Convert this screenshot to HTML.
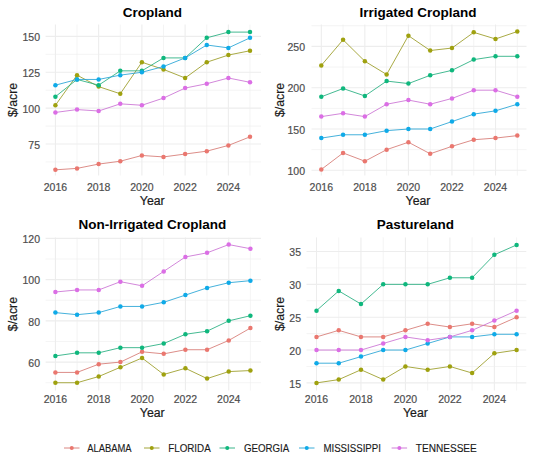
<!DOCTYPE html><html><head><meta charset="utf-8"><style>html,body{margin:0;padding:0;background:#fff;width:533px;height:469px;overflow:hidden}svg{display:block}text{font-family:"Liberation Sans",sans-serif}</style></head><body>
<svg width="533" height="469" viewBox="0 0 533 469">
<rect width="533" height="469" fill="#fff"/>
<line x1="45.6" x2="261.0" y1="161.93" y2="161.93" stroke="#EDEDED" stroke-width="0.6"/>
<line x1="45.6" x2="261.0" y1="126.07" y2="126.07" stroke="#EDEDED" stroke-width="0.6"/>
<line x1="45.6" x2="261.0" y1="90.20" y2="90.20" stroke="#EDEDED" stroke-width="0.6"/>
<line x1="45.6" x2="261.0" y1="54.33" y2="54.33" stroke="#EDEDED" stroke-width="0.6"/>
<line x1="77.02" x2="77.02" y1="24.6" y2="175.5" stroke="#EDEDED" stroke-width="0.6"/>
<line x1="120.27" x2="120.27" y1="24.6" y2="175.5" stroke="#EDEDED" stroke-width="0.6"/>
<line x1="163.51" x2="163.51" y1="24.6" y2="175.5" stroke="#EDEDED" stroke-width="0.6"/>
<line x1="206.76" x2="206.76" y1="24.6" y2="175.5" stroke="#EDEDED" stroke-width="0.6"/>
<line x1="250.00" x2="250.00" y1="24.6" y2="175.5" stroke="#EDEDED" stroke-width="0.6"/>
<line x1="45.6" x2="261.0" y1="144.00" y2="144.00" stroke="#EDEDED" stroke-width="1.1"/>
<line x1="45.6" x2="261.0" y1="108.13" y2="108.13" stroke="#EDEDED" stroke-width="1.1"/>
<line x1="45.6" x2="261.0" y1="72.27" y2="72.27" stroke="#EDEDED" stroke-width="1.1"/>
<line x1="45.6" x2="261.0" y1="36.40" y2="36.40" stroke="#EDEDED" stroke-width="1.1"/>
<line x1="55.40" x2="55.40" y1="24.6" y2="175.5" stroke="#EDEDED" stroke-width="1.1"/>
<line x1="98.64" x2="98.64" y1="24.6" y2="175.5" stroke="#EDEDED" stroke-width="1.1"/>
<line x1="141.89" x2="141.89" y1="24.6" y2="175.5" stroke="#EDEDED" stroke-width="1.1"/>
<line x1="185.13" x2="185.13" y1="24.6" y2="175.5" stroke="#EDEDED" stroke-width="1.1"/>
<line x1="228.38" x2="228.38" y1="24.6" y2="175.5" stroke="#EDEDED" stroke-width="1.1"/>
<polyline points="55.40,169.82 77.02,168.39 98.64,164.09 120.27,161.22 141.89,155.48 163.51,156.91 185.13,154.04 206.76,151.17 228.38,145.43 250.00,136.83" fill="none" stroke="#D67972" stroke-width="0.85"/>
<polyline points="55.40,105.26 77.02,75.14 98.64,86.61 120.27,93.79 141.89,62.22 163.51,69.40 185.13,78.01 206.76,62.22 228.38,55.05 250.00,50.75" fill="none" stroke="#999B24" stroke-width="0.85"/>
<polyline points="55.40,96.66 77.02,79.44 98.64,85.18 120.27,70.83 141.89,70.83 163.51,57.92 185.13,57.92 206.76,37.83 228.38,32.10 250.00,32.10" fill="none" stroke="#24AD7E" stroke-width="0.85"/>
<polyline points="55.40,85.18 77.02,79.44 98.64,79.44 120.27,75.14 141.89,72.27 163.51,66.53 185.13,57.92 206.76,45.01 228.38,47.88 250.00,37.83" fill="none" stroke="#24A3D5" stroke-width="0.85"/>
<polyline points="55.40,112.44 77.02,109.57 98.64,111.00 120.27,103.83 141.89,105.26 163.51,98.09 185.13,88.05 206.76,83.74 228.38,78.01 250.00,82.31" fill="none" stroke="#CA71D3" stroke-width="0.85"/>
<circle cx="55.40" cy="169.82" r="2.25" fill="#EA776F"/>
<circle cx="77.02" cy="168.39" r="2.25" fill="#EA776F"/>
<circle cx="98.64" cy="164.09" r="2.25" fill="#EA776F"/>
<circle cx="120.27" cy="161.22" r="2.25" fill="#EA776F"/>
<circle cx="141.89" cy="155.48" r="2.25" fill="#EA776F"/>
<circle cx="163.51" cy="156.91" r="2.25" fill="#EA776F"/>
<circle cx="185.13" cy="154.04" r="2.25" fill="#EA776F"/>
<circle cx="206.76" cy="151.17" r="2.25" fill="#EA776F"/>
<circle cx="228.38" cy="145.43" r="2.25" fill="#EA776F"/>
<circle cx="250.00" cy="136.83" r="2.25" fill="#EA776F"/>
<circle cx="55.40" cy="105.26" r="2.25" fill="#9FA10F"/>
<circle cx="77.02" cy="75.14" r="2.25" fill="#9FA10F"/>
<circle cx="98.64" cy="86.61" r="2.25" fill="#9FA10F"/>
<circle cx="120.27" cy="93.79" r="2.25" fill="#9FA10F"/>
<circle cx="141.89" cy="62.22" r="2.25" fill="#9FA10F"/>
<circle cx="163.51" cy="69.40" r="2.25" fill="#9FA10F"/>
<circle cx="185.13" cy="78.01" r="2.25" fill="#9FA10F"/>
<circle cx="206.76" cy="62.22" r="2.25" fill="#9FA10F"/>
<circle cx="228.38" cy="55.05" r="2.25" fill="#9FA10F"/>
<circle cx="250.00" cy="50.75" r="2.25" fill="#9FA10F"/>
<circle cx="55.40" cy="96.66" r="2.25" fill="#0FB77D"/>
<circle cx="77.02" cy="79.44" r="2.25" fill="#0FB77D"/>
<circle cx="98.64" cy="85.18" r="2.25" fill="#0FB77D"/>
<circle cx="120.27" cy="70.83" r="2.25" fill="#0FB77D"/>
<circle cx="141.89" cy="70.83" r="2.25" fill="#0FB77D"/>
<circle cx="163.51" cy="57.92" r="2.25" fill="#0FB77D"/>
<circle cx="185.13" cy="57.92" r="2.25" fill="#0FB77D"/>
<circle cx="206.76" cy="37.83" r="2.25" fill="#0FB77D"/>
<circle cx="228.38" cy="32.10" r="2.25" fill="#0FB77D"/>
<circle cx="250.00" cy="32.10" r="2.25" fill="#0FB77D"/>
<circle cx="55.40" cy="85.18" r="2.25" fill="#0FAAE8"/>
<circle cx="77.02" cy="79.44" r="2.25" fill="#0FAAE8"/>
<circle cx="98.64" cy="79.44" r="2.25" fill="#0FAAE8"/>
<circle cx="120.27" cy="75.14" r="2.25" fill="#0FAAE8"/>
<circle cx="141.89" cy="72.27" r="2.25" fill="#0FAAE8"/>
<circle cx="163.51" cy="66.53" r="2.25" fill="#0FAAE8"/>
<circle cx="185.13" cy="57.92" r="2.25" fill="#0FAAE8"/>
<circle cx="206.76" cy="45.01" r="2.25" fill="#0FAAE8"/>
<circle cx="228.38" cy="47.88" r="2.25" fill="#0FAAE8"/>
<circle cx="250.00" cy="37.83" r="2.25" fill="#0FAAE8"/>
<circle cx="55.40" cy="112.44" r="2.25" fill="#DB6EE5"/>
<circle cx="77.02" cy="109.57" r="2.25" fill="#DB6EE5"/>
<circle cx="98.64" cy="111.00" r="2.25" fill="#DB6EE5"/>
<circle cx="120.27" cy="103.83" r="2.25" fill="#DB6EE5"/>
<circle cx="141.89" cy="105.26" r="2.25" fill="#DB6EE5"/>
<circle cx="163.51" cy="98.09" r="2.25" fill="#DB6EE5"/>
<circle cx="185.13" cy="88.05" r="2.25" fill="#DB6EE5"/>
<circle cx="206.76" cy="83.74" r="2.25" fill="#DB6EE5"/>
<circle cx="228.38" cy="78.01" r="2.25" fill="#DB6EE5"/>
<circle cx="250.00" cy="82.31" r="2.25" fill="#DB6EE5"/>
<text x="40" y="148.70" font-size="10.5" fill="#4D4D4D" stroke="#4D4D4D" stroke-width="0.18" text-anchor="end">75</text>
<text x="40" y="112.83" font-size="10.5" fill="#4D4D4D" stroke="#4D4D4D" stroke-width="0.18" text-anchor="end">100</text>
<text x="40" y="76.97" font-size="10.5" fill="#4D4D4D" stroke="#4D4D4D" stroke-width="0.18" text-anchor="end">125</text>
<text x="40" y="41.10" font-size="10.5" fill="#4D4D4D" stroke="#4D4D4D" stroke-width="0.18" text-anchor="end">150</text>
<text x="55.40" y="190.5" font-size="10.5" fill="#4D4D4D" stroke="#4D4D4D" stroke-width="0.18" text-anchor="middle">2016</text>
<text x="98.64" y="190.5" font-size="10.5" fill="#4D4D4D" stroke="#4D4D4D" stroke-width="0.18" text-anchor="middle">2018</text>
<text x="141.89" y="190.5" font-size="10.5" fill="#4D4D4D" stroke="#4D4D4D" stroke-width="0.18" text-anchor="middle">2020</text>
<text x="185.13" y="190.5" font-size="10.5" fill="#4D4D4D" stroke="#4D4D4D" stroke-width="0.18" text-anchor="middle">2022</text>
<text x="228.38" y="190.5" font-size="10.5" fill="#4D4D4D" stroke="#4D4D4D" stroke-width="0.18" text-anchor="middle">2024</text>
<text x="152.3" y="204.5" font-size="12.3" fill="#1A1A1A" stroke="#1A1A1A" stroke-width="0.2" text-anchor="middle">Year</text>
<text transform="translate(16.5,100.0) rotate(-90)" x="0" y="0" font-size="12.3" fill="#1A1A1A" stroke="#1A1A1A" stroke-width="0.2" text-anchor="middle">$/acre</text>
<text x="152.3" y="17" font-size="13.5" font-weight="bold" fill="#000" text-anchor="middle">Cropland</text>
<line x1="311.5" x2="526.5" y1="149.65" y2="149.65" stroke="#EDEDED" stroke-width="0.6"/>
<line x1="311.5" x2="526.5" y1="108.35" y2="108.35" stroke="#EDEDED" stroke-width="0.6"/>
<line x1="311.5" x2="526.5" y1="67.05" y2="67.05" stroke="#EDEDED" stroke-width="0.6"/>
<line x1="311.5" x2="526.5" y1="25.75" y2="25.75" stroke="#EDEDED" stroke-width="0.6"/>
<line x1="343.08" x2="343.08" y1="24.5" y2="175.5" stroke="#EDEDED" stroke-width="0.6"/>
<line x1="386.63" x2="386.63" y1="24.5" y2="175.5" stroke="#EDEDED" stroke-width="0.6"/>
<line x1="430.19" x2="430.19" y1="24.5" y2="175.5" stroke="#EDEDED" stroke-width="0.6"/>
<line x1="473.74" x2="473.74" y1="24.5" y2="175.5" stroke="#EDEDED" stroke-width="0.6"/>
<line x1="517.30" x2="517.30" y1="24.5" y2="175.5" stroke="#EDEDED" stroke-width="0.6"/>
<line x1="311.5" x2="526.5" y1="170.30" y2="170.30" stroke="#EDEDED" stroke-width="1.1"/>
<line x1="311.5" x2="526.5" y1="129.00" y2="129.00" stroke="#EDEDED" stroke-width="1.1"/>
<line x1="311.5" x2="526.5" y1="87.70" y2="87.70" stroke="#EDEDED" stroke-width="1.1"/>
<line x1="311.5" x2="526.5" y1="46.40" y2="46.40" stroke="#EDEDED" stroke-width="1.1"/>
<line x1="321.30" x2="321.30" y1="24.5" y2="175.5" stroke="#EDEDED" stroke-width="1.1"/>
<line x1="364.86" x2="364.86" y1="24.5" y2="175.5" stroke="#EDEDED" stroke-width="1.1"/>
<line x1="408.41" x2="408.41" y1="24.5" y2="175.5" stroke="#EDEDED" stroke-width="1.1"/>
<line x1="451.97" x2="451.97" y1="24.5" y2="175.5" stroke="#EDEDED" stroke-width="1.1"/>
<line x1="495.52" x2="495.52" y1="24.5" y2="175.5" stroke="#EDEDED" stroke-width="1.1"/>
<polyline points="321.30,169.47 343.08,152.95 364.86,161.21 386.63,149.65 408.41,142.22 430.19,153.78 451.97,146.35 473.74,139.74 495.52,138.09 517.30,135.61" fill="none" stroke="#D67972" stroke-width="0.85"/>
<polyline points="321.30,65.40 343.08,39.79 364.86,61.27 386.63,74.48 408.41,35.66 430.19,50.53 451.97,48.05 473.74,32.36 495.52,38.97 517.30,31.53" fill="none" stroke="#999B24" stroke-width="0.85"/>
<polyline points="321.30,96.79 343.08,88.53 364.86,95.96 386.63,81.09 408.41,83.57 430.19,75.31 451.97,70.35 473.74,59.62 495.52,56.31 517.30,56.31" fill="none" stroke="#24AD7E" stroke-width="0.85"/>
<polyline points="321.30,138.09 343.08,134.78 364.86,134.78 386.63,130.65 408.41,129.00 430.19,129.00 451.97,121.57 473.74,114.13 495.52,110.83 517.30,104.22" fill="none" stroke="#24A3D5" stroke-width="0.85"/>
<polyline points="321.30,116.61 343.08,113.31 364.86,116.61 386.63,104.22 408.41,100.09 430.19,104.22 451.97,98.44 473.74,90.18 495.52,90.18 517.30,96.79" fill="none" stroke="#CA71D3" stroke-width="0.85"/>
<circle cx="321.30" cy="169.47" r="2.25" fill="#EA776F"/>
<circle cx="343.08" cy="152.95" r="2.25" fill="#EA776F"/>
<circle cx="364.86" cy="161.21" r="2.25" fill="#EA776F"/>
<circle cx="386.63" cy="149.65" r="2.25" fill="#EA776F"/>
<circle cx="408.41" cy="142.22" r="2.25" fill="#EA776F"/>
<circle cx="430.19" cy="153.78" r="2.25" fill="#EA776F"/>
<circle cx="451.97" cy="146.35" r="2.25" fill="#EA776F"/>
<circle cx="473.74" cy="139.74" r="2.25" fill="#EA776F"/>
<circle cx="495.52" cy="138.09" r="2.25" fill="#EA776F"/>
<circle cx="517.30" cy="135.61" r="2.25" fill="#EA776F"/>
<circle cx="321.30" cy="65.40" r="2.25" fill="#9FA10F"/>
<circle cx="343.08" cy="39.79" r="2.25" fill="#9FA10F"/>
<circle cx="364.86" cy="61.27" r="2.25" fill="#9FA10F"/>
<circle cx="386.63" cy="74.48" r="2.25" fill="#9FA10F"/>
<circle cx="408.41" cy="35.66" r="2.25" fill="#9FA10F"/>
<circle cx="430.19" cy="50.53" r="2.25" fill="#9FA10F"/>
<circle cx="451.97" cy="48.05" r="2.25" fill="#9FA10F"/>
<circle cx="473.74" cy="32.36" r="2.25" fill="#9FA10F"/>
<circle cx="495.52" cy="38.97" r="2.25" fill="#9FA10F"/>
<circle cx="517.30" cy="31.53" r="2.25" fill="#9FA10F"/>
<circle cx="321.30" cy="96.79" r="2.25" fill="#0FB77D"/>
<circle cx="343.08" cy="88.53" r="2.25" fill="#0FB77D"/>
<circle cx="364.86" cy="95.96" r="2.25" fill="#0FB77D"/>
<circle cx="386.63" cy="81.09" r="2.25" fill="#0FB77D"/>
<circle cx="408.41" cy="83.57" r="2.25" fill="#0FB77D"/>
<circle cx="430.19" cy="75.31" r="2.25" fill="#0FB77D"/>
<circle cx="451.97" cy="70.35" r="2.25" fill="#0FB77D"/>
<circle cx="473.74" cy="59.62" r="2.25" fill="#0FB77D"/>
<circle cx="495.52" cy="56.31" r="2.25" fill="#0FB77D"/>
<circle cx="517.30" cy="56.31" r="2.25" fill="#0FB77D"/>
<circle cx="321.30" cy="138.09" r="2.25" fill="#0FAAE8"/>
<circle cx="343.08" cy="134.78" r="2.25" fill="#0FAAE8"/>
<circle cx="364.86" cy="134.78" r="2.25" fill="#0FAAE8"/>
<circle cx="386.63" cy="130.65" r="2.25" fill="#0FAAE8"/>
<circle cx="408.41" cy="129.00" r="2.25" fill="#0FAAE8"/>
<circle cx="430.19" cy="129.00" r="2.25" fill="#0FAAE8"/>
<circle cx="451.97" cy="121.57" r="2.25" fill="#0FAAE8"/>
<circle cx="473.74" cy="114.13" r="2.25" fill="#0FAAE8"/>
<circle cx="495.52" cy="110.83" r="2.25" fill="#0FAAE8"/>
<circle cx="517.30" cy="104.22" r="2.25" fill="#0FAAE8"/>
<circle cx="321.30" cy="116.61" r="2.25" fill="#DB6EE5"/>
<circle cx="343.08" cy="113.31" r="2.25" fill="#DB6EE5"/>
<circle cx="364.86" cy="116.61" r="2.25" fill="#DB6EE5"/>
<circle cx="386.63" cy="104.22" r="2.25" fill="#DB6EE5"/>
<circle cx="408.41" cy="100.09" r="2.25" fill="#DB6EE5"/>
<circle cx="430.19" cy="104.22" r="2.25" fill="#DB6EE5"/>
<circle cx="451.97" cy="98.44" r="2.25" fill="#DB6EE5"/>
<circle cx="473.74" cy="90.18" r="2.25" fill="#DB6EE5"/>
<circle cx="495.52" cy="90.18" r="2.25" fill="#DB6EE5"/>
<circle cx="517.30" cy="96.79" r="2.25" fill="#DB6EE5"/>
<text x="305" y="175.00" font-size="10.5" fill="#4D4D4D" stroke="#4D4D4D" stroke-width="0.18" text-anchor="end">100</text>
<text x="305" y="133.70" font-size="10.5" fill="#4D4D4D" stroke="#4D4D4D" stroke-width="0.18" text-anchor="end">150</text>
<text x="305" y="92.40" font-size="10.5" fill="#4D4D4D" stroke="#4D4D4D" stroke-width="0.18" text-anchor="end">200</text>
<text x="305" y="51.10" font-size="10.5" fill="#4D4D4D" stroke="#4D4D4D" stroke-width="0.18" text-anchor="end">250</text>
<text x="321.30" y="190.5" font-size="10.5" fill="#4D4D4D" stroke="#4D4D4D" stroke-width="0.18" text-anchor="middle">2016</text>
<text x="364.86" y="190.5" font-size="10.5" fill="#4D4D4D" stroke="#4D4D4D" stroke-width="0.18" text-anchor="middle">2018</text>
<text x="408.41" y="190.5" font-size="10.5" fill="#4D4D4D" stroke="#4D4D4D" stroke-width="0.18" text-anchor="middle">2020</text>
<text x="451.97" y="190.5" font-size="10.5" fill="#4D4D4D" stroke="#4D4D4D" stroke-width="0.18" text-anchor="middle">2022</text>
<text x="495.52" y="190.5" font-size="10.5" fill="#4D4D4D" stroke="#4D4D4D" stroke-width="0.18" text-anchor="middle">2024</text>
<text x="418.0" y="204.5" font-size="12.3" fill="#1A1A1A" stroke="#1A1A1A" stroke-width="0.2" text-anchor="middle">Year</text>
<text transform="translate(283.5,100.0) rotate(-90)" x="0" y="0" font-size="12.3" fill="#1A1A1A" stroke="#1A1A1A" stroke-width="0.2" text-anchor="middle">$/acre</text>
<text x="418.0" y="17" font-size="13.5" font-weight="bold" fill="#000" text-anchor="middle">Irrigated Cropland</text>
<line x1="45.6" x2="261.0" y1="382.72" y2="382.72" stroke="#EDEDED" stroke-width="0.6"/>
<line x1="45.6" x2="261.0" y1="341.48" y2="341.48" stroke="#EDEDED" stroke-width="0.6"/>
<line x1="45.6" x2="261.0" y1="300.25" y2="300.25" stroke="#EDEDED" stroke-width="0.6"/>
<line x1="45.6" x2="261.0" y1="259.02" y2="259.02" stroke="#EDEDED" stroke-width="0.6"/>
<line x1="77.07" x2="77.07" y1="237.6" y2="390.5" stroke="#EDEDED" stroke-width="0.6"/>
<line x1="120.40" x2="120.40" y1="237.6" y2="390.5" stroke="#EDEDED" stroke-width="0.6"/>
<line x1="163.73" x2="163.73" y1="237.6" y2="390.5" stroke="#EDEDED" stroke-width="0.6"/>
<line x1="207.07" x2="207.07" y1="237.6" y2="390.5" stroke="#EDEDED" stroke-width="0.6"/>
<line x1="250.40" x2="250.40" y1="237.6" y2="390.5" stroke="#EDEDED" stroke-width="0.6"/>
<line x1="45.6" x2="261.0" y1="362.10" y2="362.10" stroke="#EDEDED" stroke-width="1.1"/>
<line x1="45.6" x2="261.0" y1="320.87" y2="320.87" stroke="#EDEDED" stroke-width="1.1"/>
<line x1="45.6" x2="261.0" y1="279.63" y2="279.63" stroke="#EDEDED" stroke-width="1.1"/>
<line x1="45.6" x2="261.0" y1="238.40" y2="238.40" stroke="#EDEDED" stroke-width="1.1"/>
<line x1="55.40" x2="55.40" y1="237.6" y2="390.5" stroke="#EDEDED" stroke-width="1.1"/>
<line x1="98.73" x2="98.73" y1="237.6" y2="390.5" stroke="#EDEDED" stroke-width="1.1"/>
<line x1="142.07" x2="142.07" y1="237.6" y2="390.5" stroke="#EDEDED" stroke-width="1.1"/>
<line x1="185.40" x2="185.40" y1="237.6" y2="390.5" stroke="#EDEDED" stroke-width="1.1"/>
<line x1="228.73" x2="228.73" y1="237.6" y2="390.5" stroke="#EDEDED" stroke-width="1.1"/>
<polyline points="55.40,372.41 77.07,372.41 98.73,364.16 120.40,362.10 142.07,351.79 163.73,353.85 185.40,349.73 207.07,349.73 228.73,340.45 250.40,328.08" fill="none" stroke="#D67972" stroke-width="0.85"/>
<polyline points="55.40,382.72 77.07,382.72 98.73,376.53 120.40,367.25 142.07,357.98 163.73,374.47 185.40,368.29 207.07,378.59 228.73,371.58 250.40,370.55" fill="none" stroke="#999B24" stroke-width="0.85"/>
<polyline points="55.40,355.92 77.07,352.82 98.73,352.82 120.40,347.67 142.07,347.67 163.73,343.55 185.40,334.27 207.07,331.18 228.73,320.87 250.40,315.71" fill="none" stroke="#24AD7E" stroke-width="0.85"/>
<polyline points="55.40,312.62 77.07,314.68 98.73,312.62 120.40,306.44 142.07,306.44 163.73,302.31 185.40,295.10 207.07,287.88 228.73,282.73 250.40,280.66" fill="none" stroke="#24A3D5" stroke-width="0.85"/>
<polyline points="55.40,292.00 77.07,289.94 98.73,289.94 120.40,281.69 142.07,285.82 163.73,271.39 185.40,256.95 207.07,252.83 228.73,244.59 250.40,248.71" fill="none" stroke="#CA71D3" stroke-width="0.85"/>
<circle cx="55.40" cy="372.41" r="2.25" fill="#EA776F"/>
<circle cx="77.07" cy="372.41" r="2.25" fill="#EA776F"/>
<circle cx="98.73" cy="364.16" r="2.25" fill="#EA776F"/>
<circle cx="120.40" cy="362.10" r="2.25" fill="#EA776F"/>
<circle cx="142.07" cy="351.79" r="2.25" fill="#EA776F"/>
<circle cx="163.73" cy="353.85" r="2.25" fill="#EA776F"/>
<circle cx="185.40" cy="349.73" r="2.25" fill="#EA776F"/>
<circle cx="207.07" cy="349.73" r="2.25" fill="#EA776F"/>
<circle cx="228.73" cy="340.45" r="2.25" fill="#EA776F"/>
<circle cx="250.40" cy="328.08" r="2.25" fill="#EA776F"/>
<circle cx="55.40" cy="382.72" r="2.25" fill="#9FA10F"/>
<circle cx="77.07" cy="382.72" r="2.25" fill="#9FA10F"/>
<circle cx="98.73" cy="376.53" r="2.25" fill="#9FA10F"/>
<circle cx="120.40" cy="367.25" r="2.25" fill="#9FA10F"/>
<circle cx="142.07" cy="357.98" r="2.25" fill="#9FA10F"/>
<circle cx="163.73" cy="374.47" r="2.25" fill="#9FA10F"/>
<circle cx="185.40" cy="368.29" r="2.25" fill="#9FA10F"/>
<circle cx="207.07" cy="378.59" r="2.25" fill="#9FA10F"/>
<circle cx="228.73" cy="371.58" r="2.25" fill="#9FA10F"/>
<circle cx="250.40" cy="370.55" r="2.25" fill="#9FA10F"/>
<circle cx="55.40" cy="355.92" r="2.25" fill="#0FB77D"/>
<circle cx="77.07" cy="352.82" r="2.25" fill="#0FB77D"/>
<circle cx="98.73" cy="352.82" r="2.25" fill="#0FB77D"/>
<circle cx="120.40" cy="347.67" r="2.25" fill="#0FB77D"/>
<circle cx="142.07" cy="347.67" r="2.25" fill="#0FB77D"/>
<circle cx="163.73" cy="343.55" r="2.25" fill="#0FB77D"/>
<circle cx="185.40" cy="334.27" r="2.25" fill="#0FB77D"/>
<circle cx="207.07" cy="331.18" r="2.25" fill="#0FB77D"/>
<circle cx="228.73" cy="320.87" r="2.25" fill="#0FB77D"/>
<circle cx="250.40" cy="315.71" r="2.25" fill="#0FB77D"/>
<circle cx="55.40" cy="312.62" r="2.25" fill="#0FAAE8"/>
<circle cx="77.07" cy="314.68" r="2.25" fill="#0FAAE8"/>
<circle cx="98.73" cy="312.62" r="2.25" fill="#0FAAE8"/>
<circle cx="120.40" cy="306.44" r="2.25" fill="#0FAAE8"/>
<circle cx="142.07" cy="306.44" r="2.25" fill="#0FAAE8"/>
<circle cx="163.73" cy="302.31" r="2.25" fill="#0FAAE8"/>
<circle cx="185.40" cy="295.10" r="2.25" fill="#0FAAE8"/>
<circle cx="207.07" cy="287.88" r="2.25" fill="#0FAAE8"/>
<circle cx="228.73" cy="282.73" r="2.25" fill="#0FAAE8"/>
<circle cx="250.40" cy="280.66" r="2.25" fill="#0FAAE8"/>
<circle cx="55.40" cy="292.00" r="2.25" fill="#DB6EE5"/>
<circle cx="77.07" cy="289.94" r="2.25" fill="#DB6EE5"/>
<circle cx="98.73" cy="289.94" r="2.25" fill="#DB6EE5"/>
<circle cx="120.40" cy="281.69" r="2.25" fill="#DB6EE5"/>
<circle cx="142.07" cy="285.82" r="2.25" fill="#DB6EE5"/>
<circle cx="163.73" cy="271.39" r="2.25" fill="#DB6EE5"/>
<circle cx="185.40" cy="256.95" r="2.25" fill="#DB6EE5"/>
<circle cx="207.07" cy="252.83" r="2.25" fill="#DB6EE5"/>
<circle cx="228.73" cy="244.59" r="2.25" fill="#DB6EE5"/>
<circle cx="250.40" cy="248.71" r="2.25" fill="#DB6EE5"/>
<text x="40" y="366.80" font-size="10.5" fill="#4D4D4D" stroke="#4D4D4D" stroke-width="0.18" text-anchor="end">60</text>
<text x="40" y="325.57" font-size="10.5" fill="#4D4D4D" stroke="#4D4D4D" stroke-width="0.18" text-anchor="end">80</text>
<text x="40" y="284.33" font-size="10.5" fill="#4D4D4D" stroke="#4D4D4D" stroke-width="0.18" text-anchor="end">100</text>
<text x="40" y="243.10" font-size="10.5" fill="#4D4D4D" stroke="#4D4D4D" stroke-width="0.18" text-anchor="end">120</text>
<text x="55.40" y="403.3" font-size="10.5" fill="#4D4D4D" stroke="#4D4D4D" stroke-width="0.18" text-anchor="middle">2016</text>
<text x="98.73" y="403.3" font-size="10.5" fill="#4D4D4D" stroke="#4D4D4D" stroke-width="0.18" text-anchor="middle">2018</text>
<text x="142.07" y="403.3" font-size="10.5" fill="#4D4D4D" stroke="#4D4D4D" stroke-width="0.18" text-anchor="middle">2020</text>
<text x="185.40" y="403.3" font-size="10.5" fill="#4D4D4D" stroke="#4D4D4D" stroke-width="0.18" text-anchor="middle">2022</text>
<text x="228.73" y="403.3" font-size="10.5" fill="#4D4D4D" stroke="#4D4D4D" stroke-width="0.18" text-anchor="middle">2024</text>
<text x="152.3" y="416.5" font-size="12.3" fill="#1A1A1A" stroke="#1A1A1A" stroke-width="0.2" text-anchor="middle">Year</text>
<text transform="translate(16.5,314.1) rotate(-90)" x="0" y="0" font-size="12.3" fill="#1A1A1A" stroke="#1A1A1A" stroke-width="0.2" text-anchor="middle">$/acre</text>
<text x="152.3" y="229" font-size="13.5" font-weight="bold" fill="#000" text-anchor="middle">Non-Irrigated Cropland</text>
<line x1="306.5" x2="526.3" y1="366.47" y2="366.47" stroke="#EDEDED" stroke-width="0.6"/>
<line x1="306.5" x2="526.3" y1="333.62" y2="333.62" stroke="#EDEDED" stroke-width="0.6"/>
<line x1="306.5" x2="526.3" y1="300.77" y2="300.77" stroke="#EDEDED" stroke-width="0.6"/>
<line x1="306.5" x2="526.3" y1="267.93" y2="267.93" stroke="#EDEDED" stroke-width="0.6"/>
<line x1="338.73" x2="338.73" y1="237.4" y2="390.5" stroke="#EDEDED" stroke-width="0.6"/>
<line x1="383.20" x2="383.20" y1="237.4" y2="390.5" stroke="#EDEDED" stroke-width="0.6"/>
<line x1="427.67" x2="427.67" y1="237.4" y2="390.5" stroke="#EDEDED" stroke-width="0.6"/>
<line x1="472.13" x2="472.13" y1="237.4" y2="390.5" stroke="#EDEDED" stroke-width="0.6"/>
<line x1="516.60" x2="516.60" y1="237.4" y2="390.5" stroke="#EDEDED" stroke-width="0.6"/>
<line x1="306.5" x2="526.3" y1="382.90" y2="382.90" stroke="#EDEDED" stroke-width="1.1"/>
<line x1="306.5" x2="526.3" y1="350.05" y2="350.05" stroke="#EDEDED" stroke-width="1.1"/>
<line x1="306.5" x2="526.3" y1="317.20" y2="317.20" stroke="#EDEDED" stroke-width="1.1"/>
<line x1="306.5" x2="526.3" y1="284.35" y2="284.35" stroke="#EDEDED" stroke-width="1.1"/>
<line x1="306.5" x2="526.3" y1="251.50" y2="251.50" stroke="#EDEDED" stroke-width="1.1"/>
<line x1="316.50" x2="316.50" y1="237.4" y2="390.5" stroke="#EDEDED" stroke-width="1.1"/>
<line x1="360.97" x2="360.97" y1="237.4" y2="390.5" stroke="#EDEDED" stroke-width="1.1"/>
<line x1="405.43" x2="405.43" y1="237.4" y2="390.5" stroke="#EDEDED" stroke-width="1.1"/>
<line x1="449.90" x2="449.90" y1="237.4" y2="390.5" stroke="#EDEDED" stroke-width="1.1"/>
<line x1="494.37" x2="494.37" y1="237.4" y2="390.5" stroke="#EDEDED" stroke-width="1.1"/>
<polyline points="316.50,336.91 338.73,330.34 360.97,336.91 383.20,336.91 405.43,330.34 427.67,323.77 449.90,327.05 472.13,323.77 494.37,327.05 516.60,317.20" fill="none" stroke="#D67972" stroke-width="0.85"/>
<polyline points="316.50,382.90 338.73,379.62 360.97,369.76 383.20,379.62 405.43,366.47 427.67,369.76 449.90,366.47 472.13,373.04 494.37,353.33 516.60,350.05" fill="none" stroke="#999B24" stroke-width="0.85"/>
<polyline points="316.50,310.63 338.73,290.92 360.97,304.06 383.20,284.35 405.43,284.35 427.67,284.35 449.90,277.78 472.13,277.78 494.37,254.78 516.60,244.93" fill="none" stroke="#24AD7E" stroke-width="0.85"/>
<polyline points="316.50,363.19 338.73,363.19 360.97,356.62 383.20,350.05 405.43,350.05 427.67,343.48 449.90,336.91 472.13,336.91 494.37,334.28 516.60,334.28" fill="none" stroke="#24A3D5" stroke-width="0.85"/>
<polyline points="316.50,350.05 338.73,350.05 360.97,350.05 383.20,343.48 405.43,336.91 427.67,340.19 449.90,336.91 472.13,330.34 494.37,320.49 516.60,310.63" fill="none" stroke="#CA71D3" stroke-width="0.85"/>
<circle cx="316.50" cy="336.91" r="2.25" fill="#EA776F"/>
<circle cx="338.73" cy="330.34" r="2.25" fill="#EA776F"/>
<circle cx="360.97" cy="336.91" r="2.25" fill="#EA776F"/>
<circle cx="383.20" cy="336.91" r="2.25" fill="#EA776F"/>
<circle cx="405.43" cy="330.34" r="2.25" fill="#EA776F"/>
<circle cx="427.67" cy="323.77" r="2.25" fill="#EA776F"/>
<circle cx="449.90" cy="327.05" r="2.25" fill="#EA776F"/>
<circle cx="472.13" cy="323.77" r="2.25" fill="#EA776F"/>
<circle cx="494.37" cy="327.05" r="2.25" fill="#EA776F"/>
<circle cx="516.60" cy="317.20" r="2.25" fill="#EA776F"/>
<circle cx="316.50" cy="382.90" r="2.25" fill="#9FA10F"/>
<circle cx="338.73" cy="379.62" r="2.25" fill="#9FA10F"/>
<circle cx="360.97" cy="369.76" r="2.25" fill="#9FA10F"/>
<circle cx="383.20" cy="379.62" r="2.25" fill="#9FA10F"/>
<circle cx="405.43" cy="366.47" r="2.25" fill="#9FA10F"/>
<circle cx="427.67" cy="369.76" r="2.25" fill="#9FA10F"/>
<circle cx="449.90" cy="366.47" r="2.25" fill="#9FA10F"/>
<circle cx="472.13" cy="373.04" r="2.25" fill="#9FA10F"/>
<circle cx="494.37" cy="353.33" r="2.25" fill="#9FA10F"/>
<circle cx="516.60" cy="350.05" r="2.25" fill="#9FA10F"/>
<circle cx="316.50" cy="310.63" r="2.25" fill="#0FB77D"/>
<circle cx="338.73" cy="290.92" r="2.25" fill="#0FB77D"/>
<circle cx="360.97" cy="304.06" r="2.25" fill="#0FB77D"/>
<circle cx="383.20" cy="284.35" r="2.25" fill="#0FB77D"/>
<circle cx="405.43" cy="284.35" r="2.25" fill="#0FB77D"/>
<circle cx="427.67" cy="284.35" r="2.25" fill="#0FB77D"/>
<circle cx="449.90" cy="277.78" r="2.25" fill="#0FB77D"/>
<circle cx="472.13" cy="277.78" r="2.25" fill="#0FB77D"/>
<circle cx="494.37" cy="254.78" r="2.25" fill="#0FB77D"/>
<circle cx="516.60" cy="244.93" r="2.25" fill="#0FB77D"/>
<circle cx="316.50" cy="363.19" r="2.25" fill="#0FAAE8"/>
<circle cx="338.73" cy="363.19" r="2.25" fill="#0FAAE8"/>
<circle cx="360.97" cy="356.62" r="2.25" fill="#0FAAE8"/>
<circle cx="383.20" cy="350.05" r="2.25" fill="#0FAAE8"/>
<circle cx="405.43" cy="350.05" r="2.25" fill="#0FAAE8"/>
<circle cx="427.67" cy="343.48" r="2.25" fill="#0FAAE8"/>
<circle cx="449.90" cy="336.91" r="2.25" fill="#0FAAE8"/>
<circle cx="472.13" cy="336.91" r="2.25" fill="#0FAAE8"/>
<circle cx="494.37" cy="334.28" r="2.25" fill="#0FAAE8"/>
<circle cx="516.60" cy="334.28" r="2.25" fill="#0FAAE8"/>
<circle cx="316.50" cy="350.05" r="2.25" fill="#DB6EE5"/>
<circle cx="338.73" cy="350.05" r="2.25" fill="#DB6EE5"/>
<circle cx="360.97" cy="350.05" r="2.25" fill="#DB6EE5"/>
<circle cx="383.20" cy="343.48" r="2.25" fill="#DB6EE5"/>
<circle cx="405.43" cy="336.91" r="2.25" fill="#DB6EE5"/>
<circle cx="427.67" cy="340.19" r="2.25" fill="#DB6EE5"/>
<circle cx="449.90" cy="336.91" r="2.25" fill="#DB6EE5"/>
<circle cx="472.13" cy="330.34" r="2.25" fill="#DB6EE5"/>
<circle cx="494.37" cy="320.49" r="2.25" fill="#DB6EE5"/>
<circle cx="516.60" cy="310.63" r="2.25" fill="#DB6EE5"/>
<text x="301" y="387.60" font-size="10.5" fill="#4D4D4D" stroke="#4D4D4D" stroke-width="0.18" text-anchor="end">15</text>
<text x="301" y="354.75" font-size="10.5" fill="#4D4D4D" stroke="#4D4D4D" stroke-width="0.18" text-anchor="end">20</text>
<text x="301" y="321.90" font-size="10.5" fill="#4D4D4D" stroke="#4D4D4D" stroke-width="0.18" text-anchor="end">25</text>
<text x="301" y="289.05" font-size="10.5" fill="#4D4D4D" stroke="#4D4D4D" stroke-width="0.18" text-anchor="end">30</text>
<text x="301" y="256.20" font-size="10.5" fill="#4D4D4D" stroke="#4D4D4D" stroke-width="0.18" text-anchor="end">35</text>
<text x="316.50" y="403.3" font-size="10.5" fill="#4D4D4D" stroke="#4D4D4D" stroke-width="0.18" text-anchor="middle">2016</text>
<text x="360.97" y="403.3" font-size="10.5" fill="#4D4D4D" stroke="#4D4D4D" stroke-width="0.18" text-anchor="middle">2018</text>
<text x="405.43" y="403.3" font-size="10.5" fill="#4D4D4D" stroke="#4D4D4D" stroke-width="0.18" text-anchor="middle">2020</text>
<text x="449.90" y="403.3" font-size="10.5" fill="#4D4D4D" stroke="#4D4D4D" stroke-width="0.18" text-anchor="middle">2022</text>
<text x="494.37" y="403.3" font-size="10.5" fill="#4D4D4D" stroke="#4D4D4D" stroke-width="0.18" text-anchor="middle">2024</text>
<text x="415.4" y="416.5" font-size="12.3" fill="#1A1A1A" stroke="#1A1A1A" stroke-width="0.2" text-anchor="middle">Year</text>
<text transform="translate(283.5,313.9) rotate(-90)" x="0" y="0" font-size="12.3" fill="#1A1A1A" stroke="#1A1A1A" stroke-width="0.2" text-anchor="middle">$/acre</text>
<text x="415.4" y="229" font-size="13.5" font-weight="bold" fill="#000" text-anchor="middle">Pastureland</text>
<line x1="64" x2="79.5" y1="448" y2="448" stroke="#D67972" stroke-width="0.9"/>
<circle cx="71.75" cy="448" r="2" fill="#EA776F"/>
<text x="87.2" y="451.6" font-size="10" fill="#1A1A1A" stroke="#1A1A1A" stroke-width="0.12" textLength="44.3" lengthAdjust="spacingAndGlyphs">ALABAMA</text>
<line x1="144" x2="159.5" y1="448" y2="448" stroke="#999B24" stroke-width="0.9"/>
<circle cx="151.75" cy="448" r="2" fill="#9FA10F"/>
<text x="168.2" y="451.6" font-size="10" fill="#1A1A1A" stroke="#1A1A1A" stroke-width="0.12" textLength="42.5" lengthAdjust="spacingAndGlyphs">FLORIDA</text>
<line x1="219.5" x2="235.0" y1="448" y2="448" stroke="#24AD7E" stroke-width="0.9"/>
<circle cx="227.25" cy="448" r="2" fill="#0FB77D"/>
<text x="244" y="451.6" font-size="10" fill="#1A1A1A" stroke="#1A1A1A" stroke-width="0.12" textLength="45.3" lengthAdjust="spacingAndGlyphs">GEORGIA</text>
<line x1="299" x2="314.5" y1="448" y2="448" stroke="#24A3D5" stroke-width="0.9"/>
<circle cx="306.75" cy="448" r="2" fill="#0FAAE8"/>
<text x="323.4" y="451.6" font-size="10" fill="#1A1A1A" stroke="#1A1A1A" stroke-width="0.12" textLength="57.6" lengthAdjust="spacingAndGlyphs">MISSISSIPPI</text>
<line x1="391.6" x2="407.1" y1="448" y2="448" stroke="#CA71D3" stroke-width="0.9"/>
<circle cx="399.35" cy="448" r="2" fill="#DB6EE5"/>
<text x="415.8" y="451.6" font-size="10" fill="#1A1A1A" stroke="#1A1A1A" stroke-width="0.12" textLength="61.0" lengthAdjust="spacingAndGlyphs">TENNESSEE</text>
</svg></body></html>
